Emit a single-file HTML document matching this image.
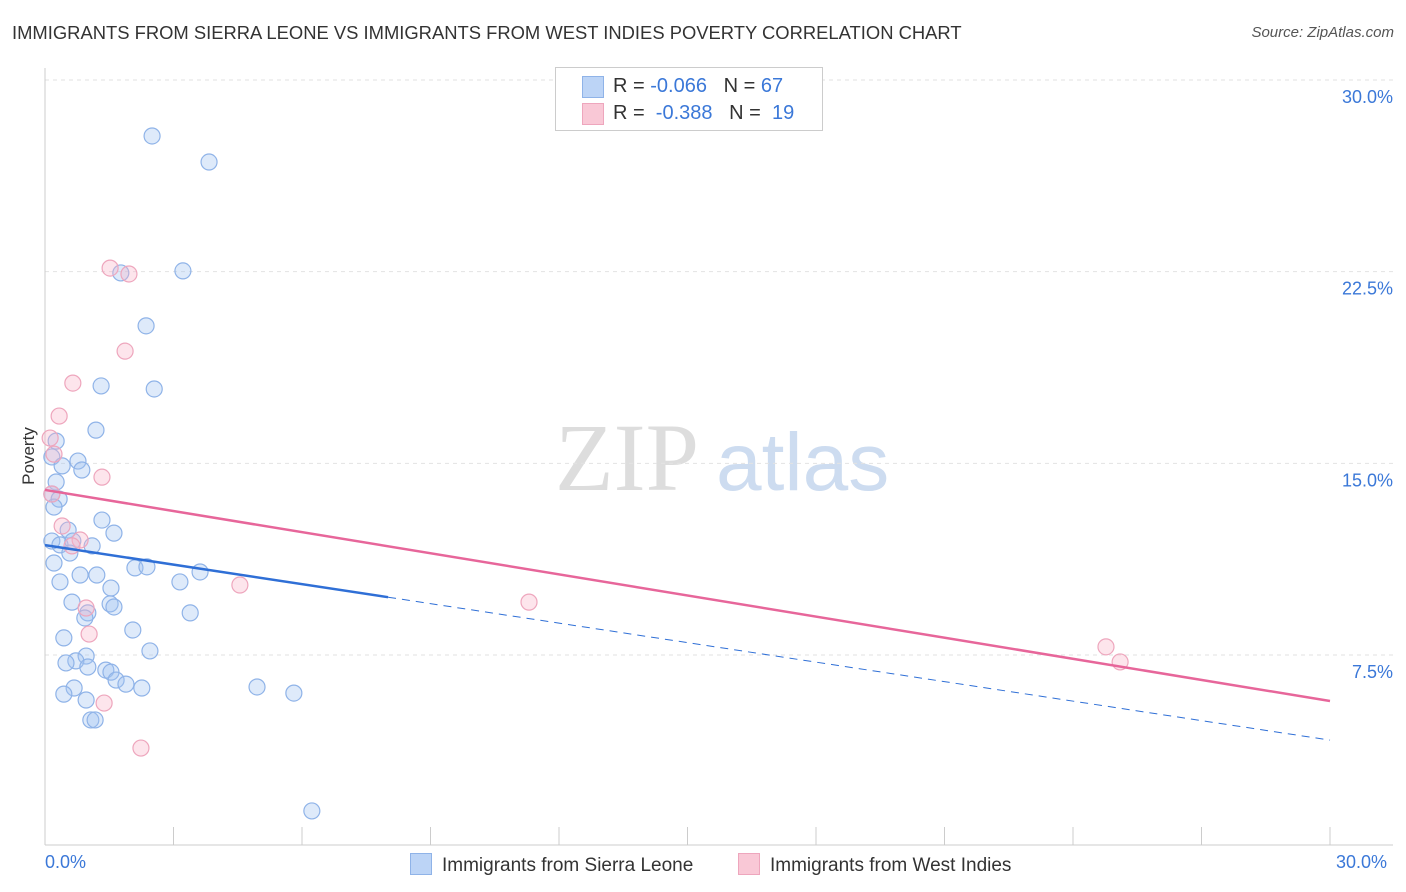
<!DOCTYPE html>
<html><head><meta charset="utf-8"><style>
body{margin:0;background:#fff;font-family:"Liberation Sans",sans-serif;}
#wrap{position:relative;width:1406px;height:892px;overflow:hidden;}
.t{position:absolute;white-space:nowrap;}
</style></head><body>
<div id="wrap">
<div class="t" style="left:12px;top:22px;font-size:18.4px;color:#333;">IMMIGRANTS FROM SIERRA LEONE VS IMMIGRANTS FROM WEST INDIES POVERTY CORRELATION CHART</div>
<div class="t" style="right:12px;top:24px;font-size:15px;color:#555;font-style:italic;">Source: ZipAtlas.com</div>
<svg id="svg" width="1406" height="892" style="position:absolute;left:0;top:0">
<text x="555" y="490" font-family="Liberation Serif,serif" font-size="96" fill="#ddd">ZIP</text>
<text x="716" y="490" font-family="Liberation Sans,sans-serif" font-size="82" fill="#cddcf0">atlas</text>
<text transform="translate(34,456) rotate(-90)" text-anchor="middle" font-size="17" fill="#333">Poverty</text>
</svg>
<div class="t" style="left:45px;top:852px;font-size:18px;color:#3b78d8;">0.0%</div>
<div class="t" style="left:1336px;top:852px;font-size:18px;color:#3b78d8;">30.0%</div>
<div style="position:absolute;left:555px;top:67px;width:266px;height:62px;border:1px solid #ccc;background:#fff;font-size:20px;">
 <div style="position:absolute;left:26px;top:8px;width:20px;height:20px;background:#bcd4f6;border:1px solid #8fb3e8;"></div>
 <div class="t" style="left:57px;top:7px;color:#333;">R = <span style="color:#3b78d8">-0.066</span>&nbsp;&nbsp;&nbsp;N = <span style="color:#3b78d8">67</span></div>
 <div style="position:absolute;left:26px;top:35px;width:20px;height:20px;background:#f9c8d6;border:1px solid #eea6bd;"></div>
 <div class="t" style="left:57px;top:34px;color:#333;">R = &nbsp;<span style="color:#3b78d8">-0.388</span>&nbsp;&nbsp;&nbsp;N = &nbsp;<span style="color:#3b78d8">19</span></div>
</div>
<div style="position:absolute;left:410px;top:853px;font-size:19px;color:#333;">
 <span style="display:inline-block;width:20px;height:20px;background:#bcd4f6;border:1px solid #8fb3e8;vertical-align:-4px;margin-right:10px;"></span>Immigrants from Sierra Leone</div>
<div style="position:absolute;left:738px;top:853px;font-size:19px;color:#333;">
 <span style="display:inline-block;width:20px;height:20px;background:#f9c8d6;border:1px solid #eea6bd;vertical-align:-4px;margin-right:10px;"></span>Immigrants from West Indies</div>
</div>
<script>
const yTicks=[7.5,15,22.5,30];
const yTickLabels=["7.5%","15.0%","22.5%","30.0%"];
const blueX=[2.50,3.83,3.22,1.77,2.36,1.31,2.55,1.19,0.26,0.16,0.77,0.40,0.86,0.26,0.16,0.33,0.21,1.33,0.54,1.61,0.16,0.35,0.65,1.10,0.58,0.21,2.10,2.38,3.62,0.82,1.21,0.35,3.15,1.54,0.63,1.52,1.61,1.00,3.39,0.93,2.05,0.44,2.45,0.96,0.72,0.49,1.00,1.42,1.54,1.66,1.89,2.26,0.68,4.95,5.81,0.44,0.96,1.07,1.17,6.23];
const blueY=[27.81,26.79,22.53,22.45,20.38,18.03,17.91,16.30,15.87,15.25,15.09,14.90,14.74,14.27,13.80,13.60,13.29,12.78,12.39,12.27,11.96,11.81,11.96,11.77,11.49,11.10,10.91,10.95,10.75,10.63,10.63,10.36,10.36,10.12,9.57,9.50,9.38,9.15,9.15,8.95,8.48,8.17,7.66,7.46,7.27,7.19,7.03,6.91,6.83,6.52,6.36,6.21,6.21,6.25,6.01,5.97,5.74,4.96,4.96,1.40];
const pinkX=[1.96,1.52,1.87,0.65,0.33,0.12,0.21,1.33,0.16,0.40,0.82,0.63,4.55,0.96,1.03,1.38,2.24,11.30,24.77,25.10];
const pinkY=[22.41,22.64,19.39,18.14,16.85,15.99,15.36,14.46,13.80,12.55,12.00,11.77,10.24,9.34,8.32,5.62,3.86,9.57,7.82,7.23];
const blueTrend=[11.80,4.17]; const blueSolidEnd=8.01;
const pinkTrend=[13.96,5.70];
const X0=45,X1=1330,Y0=846.7,Y30=80;
const sx=v=>X0+(X1-X0)*v/30, sy=v=>Y0-(Y0-Y30)*v/30;
const svg=document.getElementById('svg'),NS='http://www.w3.org/2000/svg';
function mk(tag,a){const e=document.createElementNS(NS,tag);for(const k in a)e.setAttribute(k,a[k]);svg.appendChild(e);return e;}
yTicks.forEach((t,i)=>{
 const g=mk('line',{x1:X0,x2:1393,y1:sy(t),y2:sy(t),stroke:'#e2e2e2','stroke-dasharray':'4,4'});
 
 
 const l=mk('text',{x:1393,y:sy(t)+23,'text-anchor':'end','font-size':18,fill:'#3b78d8'});l.textContent=yTickLabels[i];
 
 
});
const ax=mk('line',{x1:X0,x2:X0,y1:68,y2:845,stroke:'#ccc'});


const bx=mk('line',{x1:X0,x2:1393,y1:845,y2:845,stroke:'#ccc'});


for(let i=0;i<=10;i++){const t=mk('line',{x1:sx(i*3),x2:sx(i*3),y1:827,y2:845,stroke:'#ccc'});
 
 }
blueX.forEach((x,i)=>{const c=mk('circle',{cx:sx(x),cy:sy(blueY[i]),r:8,fill:'rgba(160,196,240,0.35)',stroke:'#8fb3e8','stroke-width':1.2});
 
 });
pinkX.forEach((x,i)=>{const c=mk('circle',{cx:sx(x),cy:sy(pinkY[i]),r:8,fill:'rgba(248,180,200,0.35)',stroke:'#eea6bd','stroke-width':1.2});
 
 });
const by=x=>blueTrend[0]+(blueTrend[1]-blueTrend[0])*x/30;
const b1=mk('line',{x1:sx(0),y1:sy(by(0)),x2:sx(blueSolidEnd),y2:sy(by(blueSolidEnd)),stroke:'#2f6fd6','stroke-width':2.5});


const b2=mk('line',{x1:sx(blueSolidEnd),y1:sy(by(blueSolidEnd)),x2:sx(30),y2:sy(by(30)),stroke:'#2f6fd6','stroke-width':1,'stroke-dasharray':'8,6'});


const p1=mk('line',{x1:sx(0),y1:sy(pinkTrend[0]),x2:sx(30),y2:sy(pinkTrend[1]),stroke:'#e7669a','stroke-width':2.5});


</script>
</body></html>
